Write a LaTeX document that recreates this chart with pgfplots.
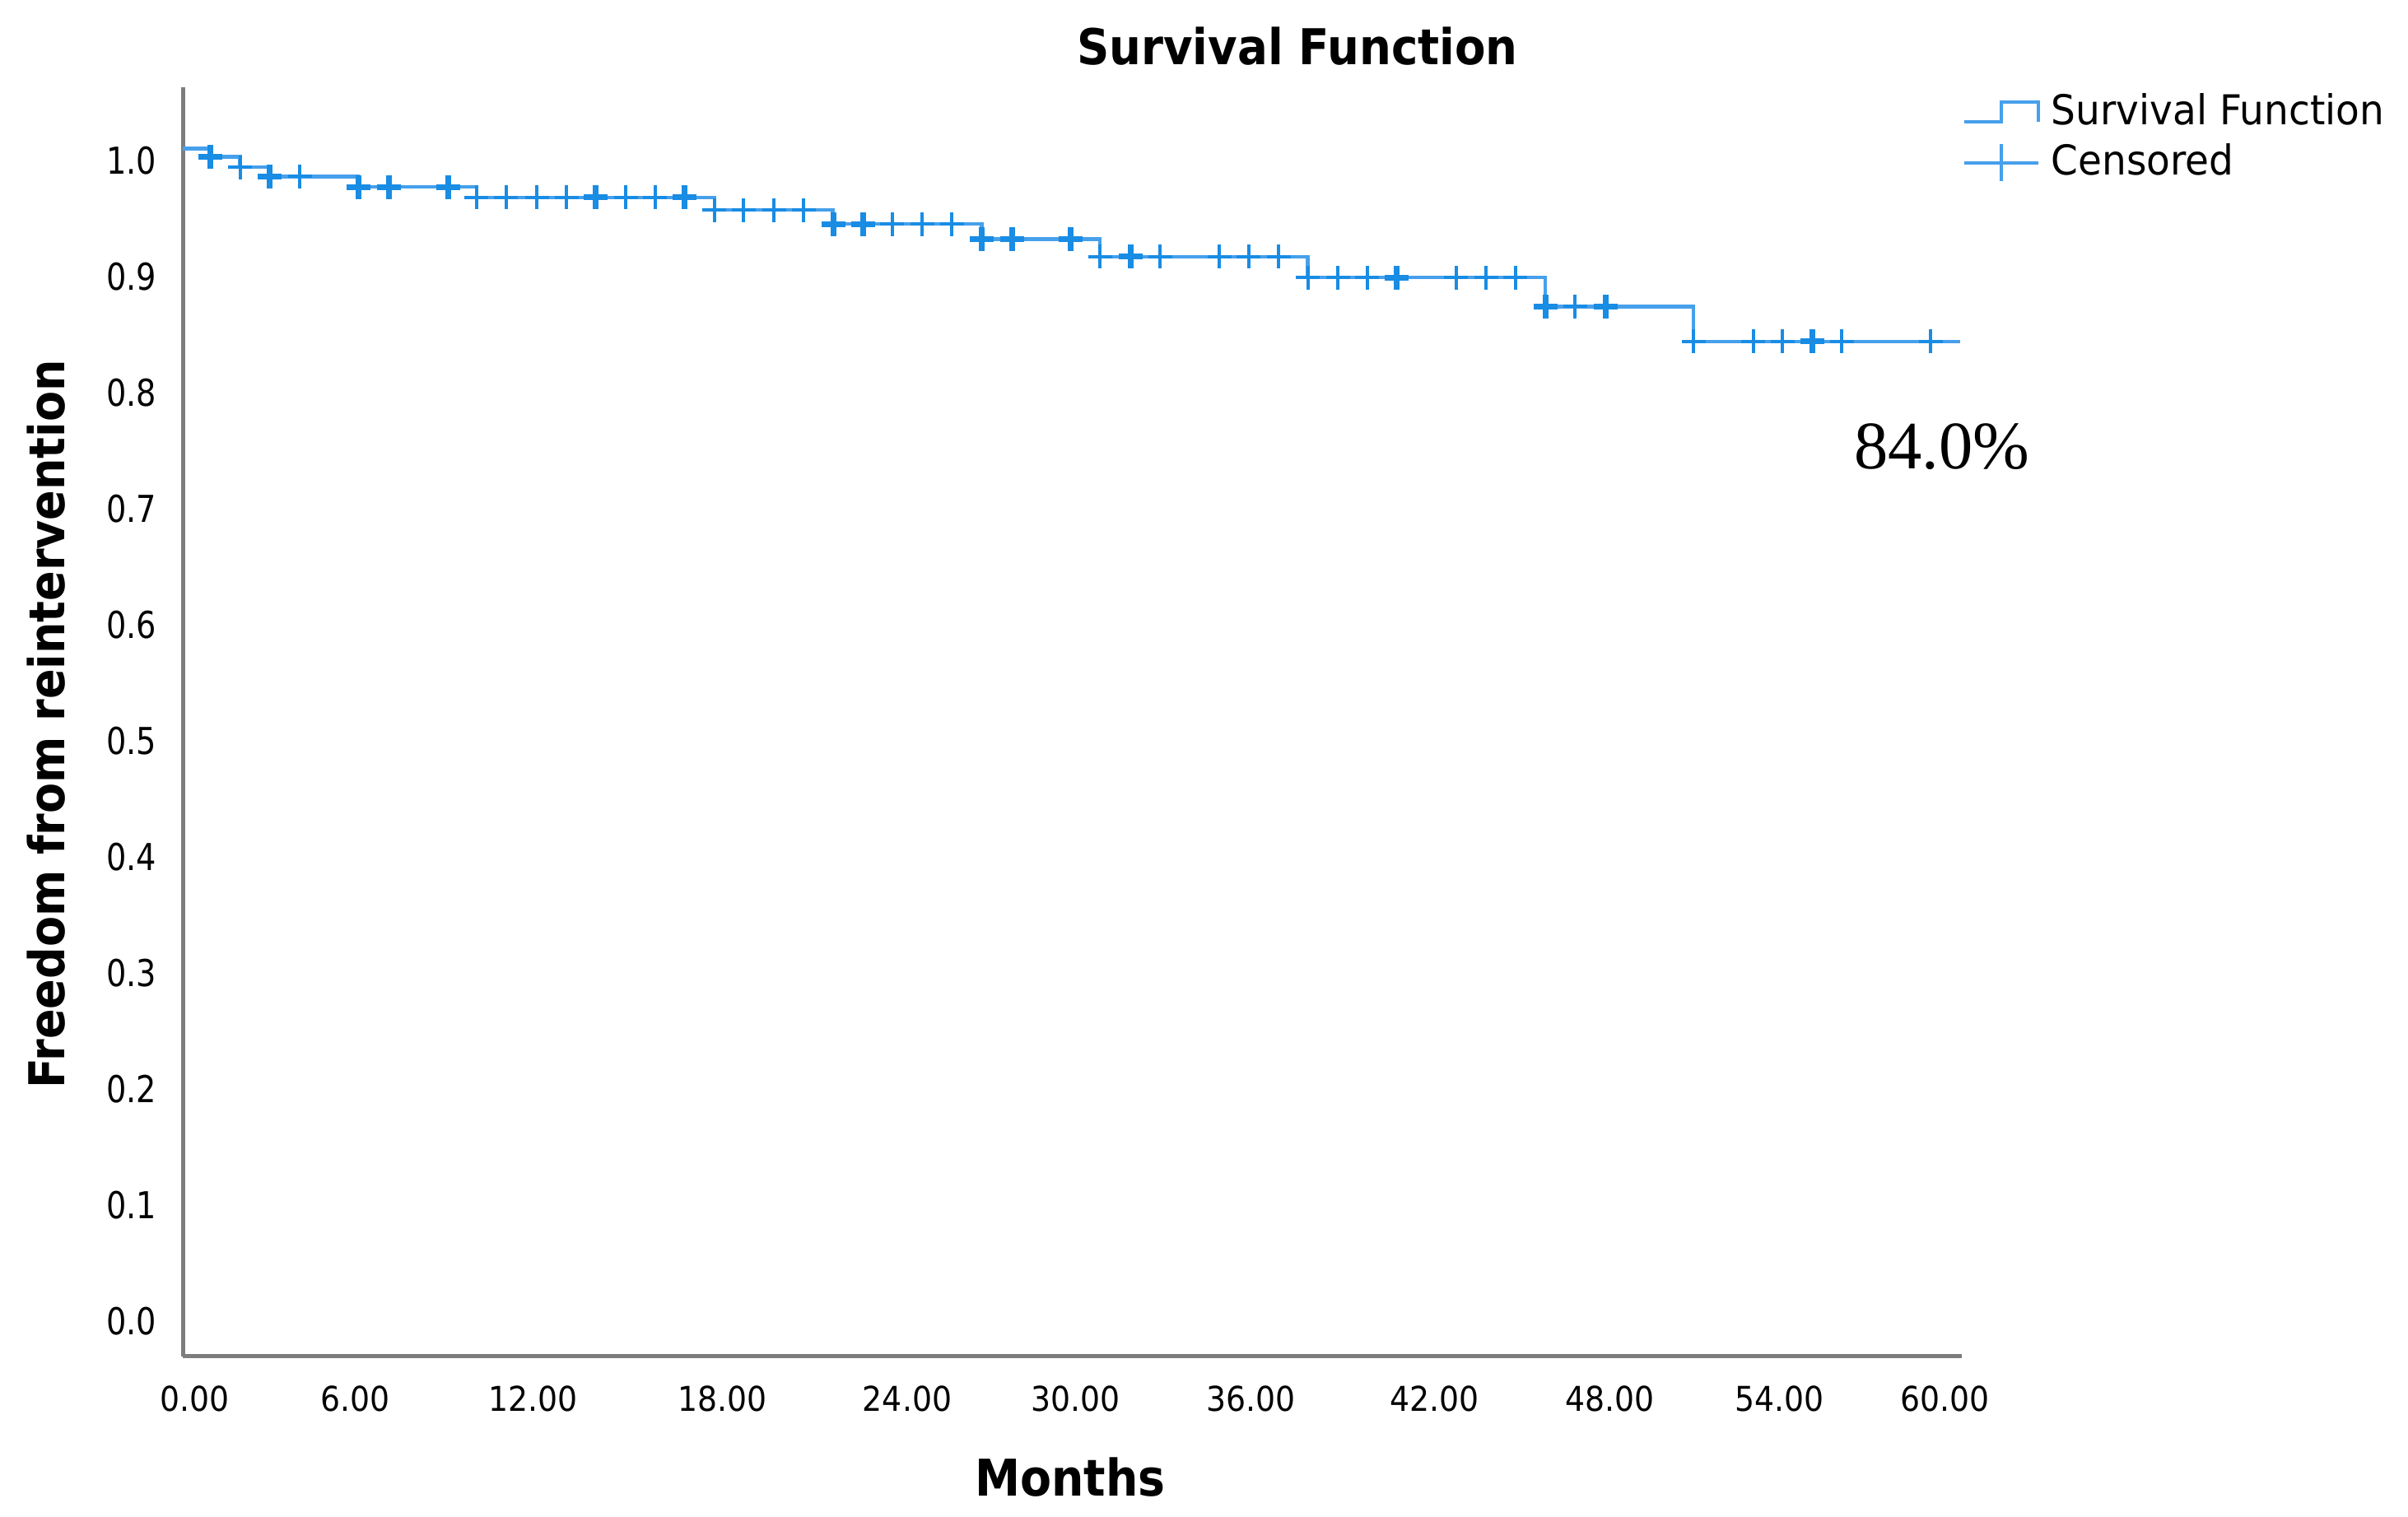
\documentclass[border=0pt]{standalone}
\usepackage{graphicx}
\usepackage{fontspec}
\setmainfont{DejaVu Sans}
\newfontfamily\seriffont{Liberation Serif}
\usepackage{pgfplots}
\pgfplotsset{compat=1.18}
\definecolor{kmline}{RGB}{70,160,235}
\definecolor{kmmark}{RGB}{25,140,228}
\definecolor{axgray}{RGB}{125,125,125}
\newcommand{\cx}[2]{\scalebox{#1}[1]{#2}}
\begin{document}
\begin{tikzpicture}
\begin{axis}[
  scale only axis, width=432.2pt, height=308.3pt,
  xmin=0, xmax=60.9, ymin=-0.0301, ymax=1.0625,
  axis x line*=bottom, axis y line*=left,
  axis line style={axgray, line width=1pt, -},
  major tick length=0pt,
  xtick={0.41,5.91,11.98,18.47,24.80,30.56,36.57,42.85,48.86,54.67,60.31},
  xticklabels={\cx{0.91}{0.00},\cx{0.91}{6.00},\cx{0.91}{12.00},\cx{0.91}{18.00},\cx{0.91}{24.00},\cx{0.91}{30.00},\cx{0.91}{36.00},\cx{0.91}{42.00},\cx{0.91}{48.00},\cx{0.91}{54.00},\cx{0.91}{60.00}},
  xticklabel style={anchor=north, inner sep=0pt, yshift=-7pt, font=\fontsize{8.3}{9}\selectfont},
  ytick={0,0.1,0.2,0.3,0.4,0.5,0.6,0.7,0.8,0.9,1.0},
  yticklabels={\cx{0.85}{0.0},\cx{0.85}{0.1},\cx{0.85}{0.2},\cx{0.85}{0.3},\cx{0.85}{0.4},\cx{0.85}{0.5},\cx{0.85}{0.6},\cx{0.85}{0.7},\cx{0.85}{0.8},\cx{0.85}{0.9},\cx{0.85}{1.0}},
  yticklabel style={anchor=east, inner sep=0pt, xshift=-6.2pt, font=\fontsize{9}{10}\selectfont},
  clip=false,
  legend style={at={(1.0001,1.0)}, anchor=north west, draw=none, fill=none, inner sep=0pt,
    font=\fontsize{10}{12}\selectfont, row sep=0.8pt, nodes={inner sep=1.2pt}},
  legend cell align=left,
]
\addplot[const plot, kmline, line width=0.85pt,
  legend image code/.code={\draw[kmline, line width=0.8pt] (0pt,-2.4pt) -- (9pt,-2.4pt) -- (9pt,2.4pt) -- (18pt,2.4pt) -- (18pt,-2.4pt);}]
coordinates {(0,1.010) (0.95,1.003) (1.96,0.994) (2.98,0.986) (6.01,0.977) (10.06,0.968) (18.2,0.957) (22.25,0.945) (27.35,0.932) (31.4,0.917) (38.51,0.899) (46.64,0.874) (51.72,0.844) (60.85,0.844)};
\addlegendentry{\hspace{1.5pt}\cx{0.94}{Survival Function}}
\addplot[only marks, mark=+, kmmark, mark size=2.9pt, mark options={line width=0.8pt},
  legend image code/.code={\draw[kmline, line width=0.8pt] (0pt,0pt) -- (18pt,0pt) (9pt,-4.5pt) -- (9pt,4.5pt);}]
coordinates {(1.96,0.994) (4.01,0.986)
 (10.06,0.968) (11.07,0.968) (12.12,0.968) (13.14,0.968) (15.17,0.968) (16.17,0.968)
 (18.2,0.957) (19.2,0.957) (20.24,0.957) (21.25,0.957)
 (24.29,0.945) (25.32,0.945) (26.33,0.945)
 (31.4,0.917) (33.46,0.917) (35.49,0.917) (36.49,0.917) (37.51,0.917)
 (38.51,0.899) (39.54,0.899) (40.54,0.899) (43.59,0.899) (44.62,0.899) (45.62,0.899)
 (47.66,0.874)
 (51.72,0.844) (53.76,0.844) (54.76,0.844) (56.79,0.844) (59.84,0.844)};
\addlegendentry{\hspace{1.5pt}\cx{0.94}{Censored}}
\addplot[only marks, mark=+, kmmark, mark size=2.9pt, mark options={line width=1.4pt}, forget plot]
coordinates {(0.95,1.003) (2.98,0.986) (6.01,0.977) (7.07,0.977) (9.09,0.977) (14.14,0.968) (17.19,0.968)
 (22.27,0.945) (23.29,0.945) (27.35,0.932) (28.39,0.932) (30.38,0.932) (32.45,0.917) (41.56,0.899)
 (46.64,0.874) (48.7,0.874) (55.78,0.844)};
\end{axis}
\node[font=\bfseries\fontsize{12}{13}\selectfont] at (270.8pt,318.4pt) {\cx{0.91}{Survival Function}};
\node[rotate=90, font=\bfseries\fontsize{12}{14}\selectfont] at (-33.2pt,153.6pt) {\cx{0.9}{Freedom from reintervention}};
\node[font=\bfseries\fontsize{12.3}{14}\selectfont] at (215.6pt,-29.4pt) {\cx{0.9}{Months}};
\node[font=\seriffont\fontsize{16.5}{18}\selectfont] at (427.4pt,221pt) {84.0\%};
\pgfresetboundingbox
\useasboundingbox (-44.4pt,-39pt) rectangle (540.6pt,329.6pt);
\end{tikzpicture}
\end{document}
